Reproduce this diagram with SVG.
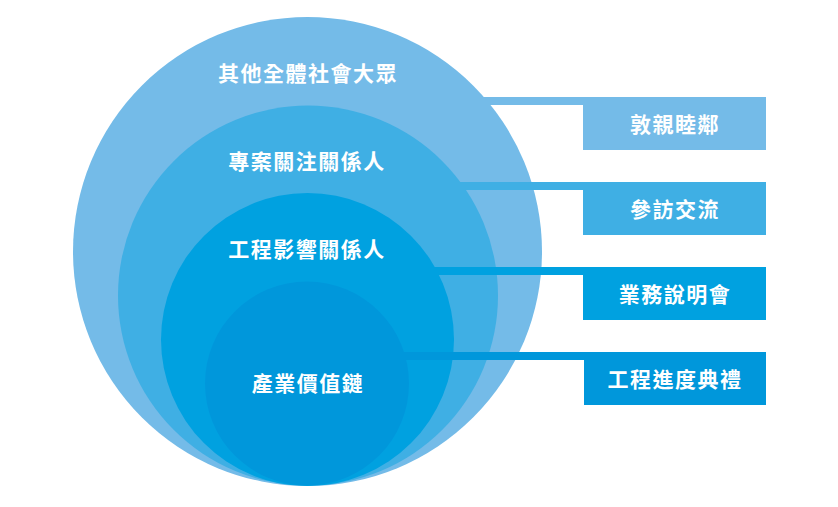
<svg xmlns="http://www.w3.org/2000/svg" width="838" height="507" viewBox="0 0 838 507">
<style>
.t{font-family:"Noto Sans CJK TC","Noto Sans CJK SC",sans-serif;font-weight:bold;font-size:21px;fill:#fff;text-anchor:middle;dominant-baseline:central;letter-spacing:1.5px}
.c1{fill:#74BBE8}.c2{fill:#3FAFE4}.c3{fill:#00A1E0}.c4{fill:#0097DB}
</style>
<rect width="838" height="507" fill="#fff"/>
<g id="circle-public"><circle class="c1" cx="307.5" cy="251.5" r="234.5"/><text class="t" x="308" y="72">其他全體社會大眾</text></g>
<g id="circle-concern"><circle class="c2" cx="308" cy="295.5" r="190"/><text class="t" x="307" y="160">專案關注關係人</text></g>
<g id="circle-impact"><circle class="c3" cx="307.5" cy="339.5" r="146.5"/><text class="t" x="307" y="248">工程影響關係人</text></g>
<g id="circle-chain"><circle class="c4" cx="307" cy="383.5" r="102"/><text class="t" x="308" y="382">產業價值鏈</text></g>
<g id="connectors">
<rect class="c1" x="470" y="97" width="115" height="8"/>
<rect class="c2" x="450" y="182" width="135" height="8"/>
<rect class="c3" x="425" y="267" width="160" height="8"/>
<rect class="c4" x="395" y="352" width="190" height="8"/>
</g>
<g id="box-neighbor"><rect class="c1" x="583" y="97" width="183" height="53"/><text class="t" x="675" y="123">敦親睦鄰</text></g>
<g id="box-visit"><rect class="c2" x="583" y="182" width="183" height="53"/><text class="t" x="675" y="208">參訪交流</text></g>
<g id="box-briefing"><rect class="c3" x="583" y="267" width="183" height="53"/><text class="t" x="675" y="293">業務說明會</text></g>
<g id="box-ceremony"><rect class="c4" x="584" y="352" width="182" height="53"/><text class="t" x="675" y="378">工程進度典禮</text></g>
</svg>
